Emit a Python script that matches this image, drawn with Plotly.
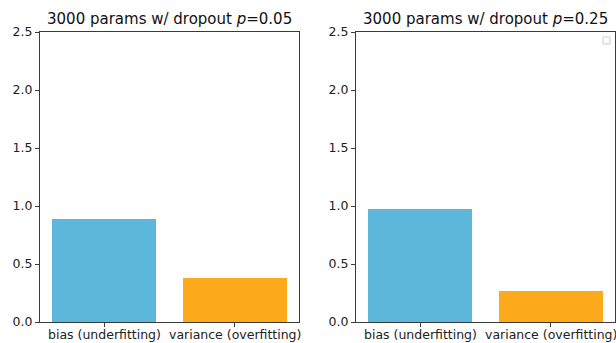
import plotly.graph_objects as go
from plotly.subplots import make_subplots

categories = ["bias (underfitting)", "variance (overfitting)"]
values_p005 = [0.89, 0.38]
values_p025 = [0.97, 0.27]
titles = ["3000 params w/ dropout <i>p</i>=0.05", "3000 params w/ dropout <i>p</i>=0.25"]
y_ticks = [0.0, 0.5, 1.0, 1.5, 2.0, 2.5]
bar_colors = ["#5db7db", "#fca91c"]

W, H = 616, 343
FONT = "DejaVu Sans"
SPINE = "#3a3a3a"
TICK_FONT = dict(family=FONT, size=12.5, color="#222")

fig = make_subplots(rows=1, cols=2)

x_domains = [[40 / W, 299 / W], [356 / W, 615 / W]]
y_domain = [1 - 322 / H, 1 - 32 / H]

for i, vals in enumerate([values_p005, values_p025]):
    fig.add_trace(
        go.Bar(
            x=[0, 1],
            y=vals,
            width=0.8,
            marker=dict(color=bar_colors, line=dict(width=0)),
            showlegend=False,
            hoverinfo="skip",
        ),
        row=1,
        col=i + 1,
    )

axis_common = dict(
    showline=True,
    linecolor=SPINE,
    linewidth=1,
    mirror=True,
    ticks="outside",
    ticklen=4,
    tickwidth=1,
    tickcolor=SPINE,
    showgrid=False,
    zeroline=False,
    automargin=False,
    tickfont=TICK_FONT,
)

for i in range(2):
    sfx = "" if i == 0 else "2"
    fig.layout["xaxis" + sfx].update(
        domain=x_domains[i],
        range=[-0.49, 1.49],
        tickmode="array",
        tickvals=[0, 1],
        showticklabels=False,
        **axis_common,
    )
    fig.layout["yaxis" + sfx].update(
        domain=y_domain,
        range=[0, 2.5],
        tickmode="array",
        tickvals=y_ticks,
        ticktext=[f"{t:.1f}" for t in y_ticks],
        **axis_common,
    )
    # category labels under each bar (drawn as text so they may run past the edge)
    for k, cat in enumerate(categories):
        fig.add_annotation(
            text=cat,
            xref="x" + sfx,
            yref="paper",
            x=k,
            y=1 - 325.5 / H,
            xanchor="center",
            yanchor="top",
            showarrow=False,
            borderpad=0,
            font=TICK_FONT,
        )
    fig.add_annotation(
        text=titles[i],
        xref="paper",
        yref="paper",
        x=sum(x_domains[i]) / 2,
        y=1 - 19 / H,
        xanchor="center",
        yanchor="middle",
        showarrow=False,
        font=dict(family=FONT, size=15, color="#111"),
    )

# empty legend frame in the upper right of the second panel
fig.add_shape(
    type="rect",
    xref="paper",
    yref="paper",
    x0=603 / W,
    x1=610 / W,
    y0=1 - 44 / H,
    y1=1 - 37 / H,
    line=dict(color="#cccccc", width=1),
    fillcolor="white",
)

fig.update_layout(
    width=W,
    height=H,
    margin=dict(l=0, r=0, t=0, b=0),
    paper_bgcolor="white",
    plot_bgcolor="white",
    bargap=0,
    font=dict(family=FONT),
)

fig.write_html("out.html")
